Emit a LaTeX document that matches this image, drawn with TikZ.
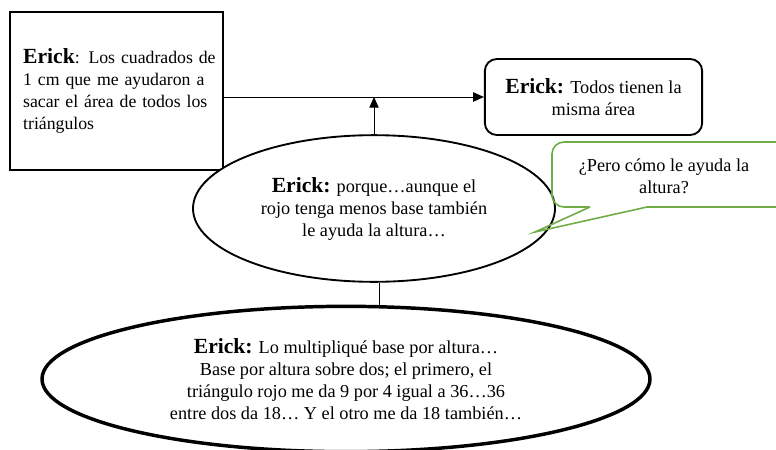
\documentclass[tikz,border=0pt]{standalone}
\usepackage{fontspec}
\setmainfont{Liberation Serif}
\usetikzlibrary{arrows.meta, calc, shapes}

\newcommand{\erick}[1]{{\fontsize{16.2}{16.5}\selectfont\bfseries #1}}
\newcommand{\fullline}[1]{\makebox[\linewidth][s]{#1}}

\begin{document}
\begin{tikzpicture}[
  x=0.75pt, y=-0.75pt,
  font=\fontsize{13.7}{16.5}\selectfont,
  box/.style={draw, line width=1.5pt, inner sep=0},
  rbox/.style={draw, line width=1.4pt, rounded corners=9pt, inner sep=0},
  bubble/.style={draw, fill=white, line width=1.4pt, shape=ellipse, inner sep=0},
  callout/.style={draw=calloutgreen, line width=1.2pt},
  to/.style={-{Triangle[length=8pt, width=7pt]}, line width=0.75pt},
  plain/.style={line width=0.75pt},
  every node/.style={align=center}]

  \definecolor{calloutgreen}{RGB}{112,173,71}

  % Fix the page to the size of the picture
  \useasboundingbox (0,0) rectangle (776,450);
  \clip (0,0) rectangle (776,450);

  % Position the nodes at coordinates
  \node[box, minimum width=160pt, minimum height=118pt, text width=140pt, align=left,
    font=\fontsize{13.3}{16.5}\selectfont] (cuadrados) at (116.5,91)
    {\fullline{\erick{Erick}: Los cuadrados de}\\ \fullline{1 cm que me ayudaron a}\\
     \fullline{sacar el área de todos los}\\ triángulos};
  \node[rbox, minimum width=163pt, minimum height=57pt] (todos) at (593.5,97)
    {\erick{Erick:} Todos tienen la\\ misma área};
  \node[bubble, minimum width=271.5pt, minimum height=110pt] (porque) at (374,208.5)
    {\erick{Erick:} porque…aunque el\\ rojo tenga menos base también\\ le ayuda la altura…};
  \node[bubble, line width=2.6pt, minimum width=456pt, minimum height=109pt] (multiplique) at (346,379)
    {\erick{Erick:} Lo multipliqué base por altura…\\ Base por altura sobre dos; el primero, el\\
     triángulo rojo me da 9 por 4 igual a 36…36\\ entre dos da 18… Y el otro me da 18 también…};

  % Draw the arrows between the nodes
  \draw[to] (cuadrados.east |- todos.west) -- (todos.west);
  \draw[to] (porque.north) -- (porque.north |- todos.west);
  \draw[plain] ([xshift=4pt]porque.south) -- ([xshift=4pt]porque.south |- multiplique.north);

  % question: green callout pointing at the ellipse
  \node (pregunta) at (664,176) {¿Pero cómo le ayuda la\\ altura?};
  \coordinate (punta) at (535,232);
  \draw[callout] (590,207) -- (punta) -- (647,207) -- (800,207) -- (800,142)
    [rounded corners=9pt] -- (552,142) -- (552,207) [sharp corners] -- (590,207);

\end{tikzpicture}
\end{document}
